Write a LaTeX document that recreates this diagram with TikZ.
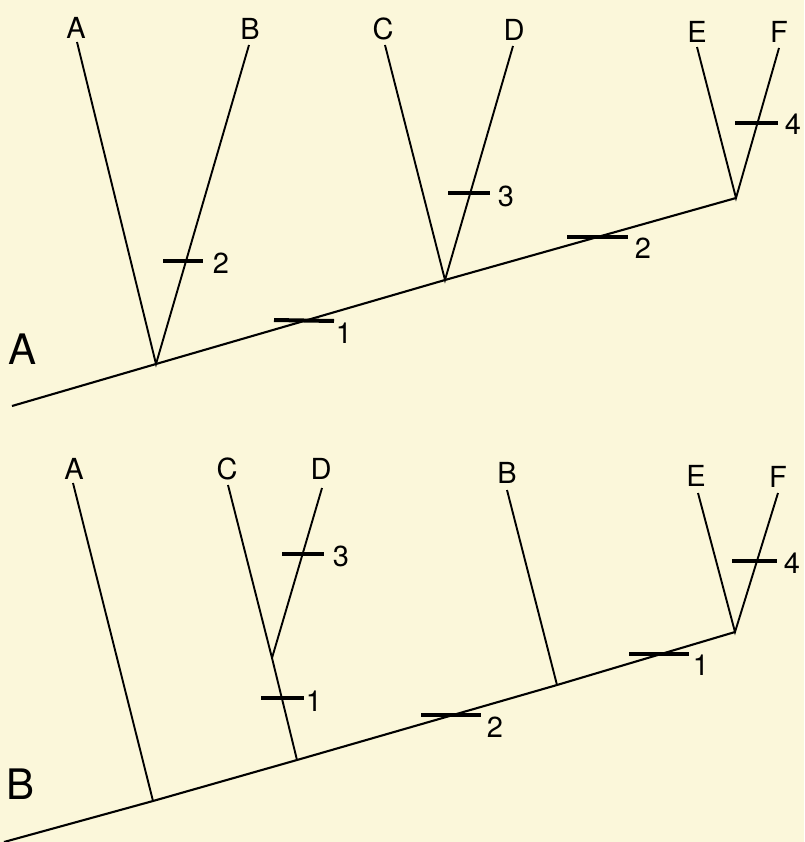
\documentclass[tikz,border=0pt]{standalone}
\usepackage{fontspec}
\setmainfont{TeX Gyre Heros}
\definecolor{paper}{RGB}{251,247,218}
\begin{document}
\begin{tikzpicture}[x=1pt,y=-1pt,
  branch/.style={line width=1.9pt,black},
  stem/.style={line width=2.1pt,black},
  tickbar/.style={line width=4pt,black},
  taxon/.style={inner sep=0pt,font=\fontsize{29}{29}\selectfont},
  num/.style={inner sep=0pt,font=\fontsize{29}{29}\selectfont},
  panel/.style={inner sep=0pt,font=\fontsize{42}{42}\selectfont}]
\fill[paper] (0,0) rectangle (804,842);
\useasboundingbox (0,0) rectangle (804,842);

% ---------- Panel A ----------
\node[panel] (pA) at (23,349) {A};
\coordinate (a0) at (12,406);
\coordinate (aAB) at (156,364);
\coordinate (aCD) at (445,280);
\coordinate (aEF) at (736,198);
\coordinate (atA) at (77,42);
\coordinate (atB) at (249,45);
\coordinate (atC) at (385,45);
\coordinate (atD) at (513,46);
\coordinate (atE) at (697,47);
\coordinate (atF) at (779,48);
\node[taxon] (lA) at (76,28) {A};
\node[taxon] (lB) at (250,29) {B};
\node[taxon] (lC) at (383,29) {C};
\node[taxon] (lD) at (514,30) {D};
\node[taxon] (lE) at (697,32) {E};
\node[taxon] (lF) at (779,32) {F};
\draw[stem] (a0) -- (aAB) -- (aCD) -- (aEF);
\draw[branch] (atA) -- (aAB) -- (atB);
\draw[branch] (atC) -- (aCD) -- (atD);
\draw[branch] (atE) -- (aEF) -- (atF);
\draw[tickbar] (163,261) -- (203,261);
\node[num] (nA2a) at (221,263) {2};
\draw[tickbar] (274,320) -- (334,321);
\node[num] (nA1) at (344,333) {1};
\draw[tickbar] (448,193) -- (490,193);
\node[num] (nA3) at (506,196) {3};
\draw[tickbar] (567,237) -- (628,237);
\node[num] (nA2b) at (643,248) {2};
\draw[tickbar] (735,123) -- (778,123);
\node[num] (nA4) at (793,124) {4};

% ---------- Panel B ----------
\node[panel] (pB) at (21,784) {B};
\coordinate (b0) at (4,842);
\coordinate (bA) at (153,801);
\coordinate (bC) at (297,760);
\coordinate (bCD) at (272,658);
\coordinate (bB) at (557,685);
\coordinate (bEF) at (735,632);
\coordinate (btA) at (73,483);
\coordinate (btC) at (228,485);
\coordinate (btD) at (322,488);
\coordinate (btB) at (507,490);
\coordinate (btE) at (698,493);
\coordinate (btF) at (778,493);
\node[taxon] (mA) at (74,469) {A};
\node[taxon] (mC) at (227,469) {C};
\node[taxon] (mD) at (321,469) {D};
\node[taxon] (mB) at (507,473) {B};
\node[taxon] (mE) at (696,476) {E};
\node[taxon] (mF) at (778,477) {F};
\draw[stem] (b0) -- (bA) -- (bC) -- (bB) -- (bEF);
\draw[branch] (btA) -- (bA);
\draw[branch] (btC) -- (bCD) -- (bC);
\draw[branch] (btD) -- (bCD);
\draw[branch] (btB) -- (bB);
\draw[branch] (btE) -- (bEF) -- (btF);
\draw[tickbar] (282,554) -- (324,554);
\node[num] (nB3) at (341,556) {3};
\draw[tickbar] (261,698) -- (304,698);
\node[num] (nB1a) at (314,701) {1};
\draw[tickbar] (421,715) -- (481,715);
\node[num] (nB2) at (495,727) {2};
\draw[tickbar] (629,654) -- (689,654);
\node[num] (nB1b) at (701,665) {1};
\draw[tickbar] (732,561) -- (777,561);
\node[num] (nB4) at (792,563) {4};
\end{tikzpicture}
\end{document}
